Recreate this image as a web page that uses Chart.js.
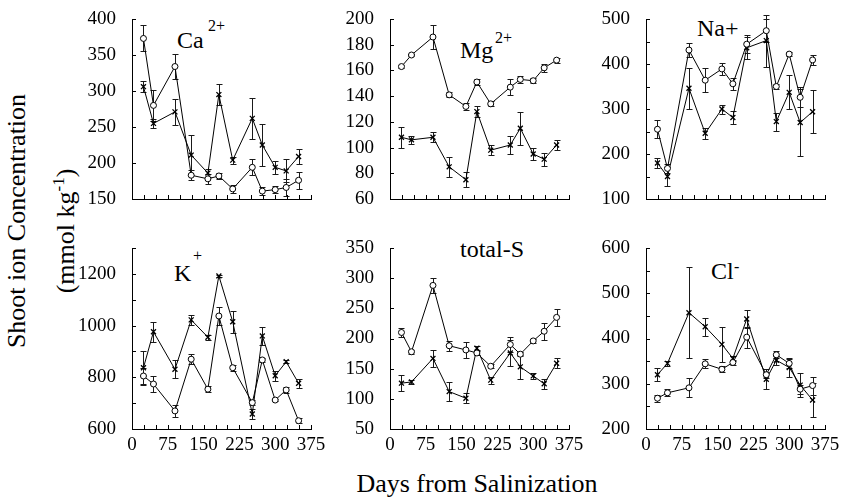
<!DOCTYPE html>
<html>
<head>
<meta charset="utf-8">
<script src="https://cdn.jsdelivr.net/npm/chart.js@4.4.1/dist/chart.umd.min.js"></script>
<style>
  html, body { margin:0; padding:0; background:#fff; }
  #wrap { position:relative; width:846px; height:501px; background:#fff; overflow:hidden;
          font-family:'Liberation Serif','Times New Roman',serif; color:#000; }
  canvas { position:absolute; }
  .t { position:absolute; line-height:1; white-space:nowrap; }
  .rot { position:absolute; line-height:1; white-space:nowrap; transform:translate(-50%,-50%) rotate(-90deg); }
  .ctr { position:absolute; line-height:1; white-space:nowrap; transform:translate(-50%,-50%); }
</style>
</head>
<body>
<div id="wrap">
  <div class="t" style="left:177px;top:28px;font-size:24px;">Ca</div>
  <div class="t" style="left:208px;top:18px;font-size:16px;">2+</div>
  <div class="t" style="left:460px;top:37.5px;font-size:24px;">Mg</div>
  <div class="t" style="left:495px;top:30px;font-size:16px;">2+</div>
  <div class="t" style="left:697px;top:15.5px;font-size:24px;">Na+</div>
  <div class="t" style="left:174px;top:260.5px;font-size:24px;">K</div>
  <div class="t" style="left:193px;top:247.5px;font-size:16px;">+</div>
  <div class="t" style="left:460px;top:236.5px;font-size:24px;">total-S</div>
  <div class="t" style="left:711px;top:259px;font-size:24px;">Cl</div>
  <div class="t" style="left:734px;top:258.5px;font-size:16px;">-</div>
  <div class="rot" style="left:17px;top:221px;font-size:26px;">Shoot ion Concentration</div>
  <div class="rot" style="left:66px;top:231px;font-size:26px;">(mmol kg<span style="font-size:17px;position:relative;top:-10px;">-1</span>)</div>
  <div class="ctr" style="left:477px;top:484px;font-size:26px;">Days from Salinization</div>
</div>
<script>
// ---- data ----
const days = [24, 45, 90, 124, 159, 182, 211, 252, 273, 300, 323, 349];
const xTickDays = [0, 25, 50, 75, 100, 125, 150, 175, 200, 225, 250, 275, 300, 325, 350, 375];
const xLabelDays = [0, 75, 150, 225, 300, 375];

const caCircle    = [373, 280, 334, 183, 178, 182, 164, 194, 161, 163, 166, 176];
const caCircleErr = [18, 22, 18, 7, 7, 4, 6, 11, 5, 5, 12, 12];
const caCross     = [306, 255, 271, 211, 186, 295, 204, 262, 225, 194, 189, 209];
const caCrossErr  = [8, 6, 18, 28, 5, 15, 5, 28, 29, 9, 16, 11];
const caTicks  = [150, 200, 250, 300, 350, 400];
const caLabels = [150, 200, 250, 300, 350, 400];

const mgCircle    = [163, 172, 186, 141, 132, 151, 134, 147, 153, 152, 162, 168];
const mgCircleErr = [1, 1, 9, 2, 3, 2, 2, 6, 3, 2, 3, 2];
const mgCross     = [108, 106, 108, 85, 75, 128, 98, 102, 115, 95, 91, 102];
const mgCrossErr  = [8, 3, 4, 8, 6, 4, 4, 7, 13, 5, 5, 4];
const mgTicks  = [60, 80, 100, 120, 140, 160, 180, 200];
const mgLabels = [60, 80, 100, 120, 140, 160, 180, 200];

const naCircle    = [255, 168, 431, 364, 389, 356, 444, 474, 350, 422, 326, 409];
const naCircleErr = [20, 10, 16, 27, 14, 13, 20, 25, 5, 4, 22, 12];
const naCross     = [180, 150, 346, 246, 300, 281, 436, 452, 272, 337, 270, 294];
const naCrossErr  = [12, 22, 45, 12, 10, 14, 25, 58, 20, 38, 75, 48];
const naTicks  = [100, 150, 200, 250, 300, 350, 400, 450, 500];
const naLabels = [100, 200, 300, 400, 500];

const kCircle    = [805, 774, 670, 870, 754, 1037, 837, 702, 867, 712, 751, 632];
const kCircleErr = [30, 32, 22, 20, 12, 33, 12, 10, 8, 5, 10, 10];
const kCross     = [837, 976, 831, 1022, 955, 1192, 1015, 658, 960, 806, 860, 777];
const kCrossErr  = [66, 38, 34, 18, 10, 5, 42, 20, 36, 20, 5, 18];
const kTicks  = [600, 700, 800, 900, 1000, 1100, 1200, 1300];
const kLabels = [600, 800, 1000, 1200];

const sCircle    = [210, 178, 288, 188, 181, 176, 154, 190, 174, 196, 212, 235];
const sCircleErr = [8, 3, 13, 8, 14, 3, 3, 13, 3, 3, 14, 14];
const sCross     = [126, 128, 167, 112, 101, 184, 131, 176, 153, 138, 125, 159];
const sCrossErr  = [13, 3, 14, 16, 8, 3, 6, 22, 20, 5, 8, 8];
const sTicks  = [50, 100, 150, 200, 250, 300, 350];
const sLabels = [50, 100, 150, 200, 250, 300, 350];

const clCircle    = [268, 280, 291, 344, 332, 347, 403, 320, 364, 345, 288, 296];
const clCircleErr = [8, 8, 21, 10, 7, 5, 23, 7, 8, 10, 10, 20];
const clCross     = [320, 345, 457, 426, 387, 356, 443, 310, 352, 336, 297, 264];
const clCrossErr  = [15, 5, 100, 20, 38, 5, 20, 22, 10, 20, 26, 37];
const clTicks  = [200, 250, 300, 350, 400, 450, 500, 550, 600];
const clLabels = [200, 300, 400, 500, 600];

// ---- drawing ----
const FONT = "Liberation Serif, serif";
Chart.defaults.font.family = FONT;
Chart.defaults.color = '#000';
const YW = 70, PADT = 32, PADR = 24, XH = 32;
const colLeft = [132, 390, 646];
const rowTop = [19, 248];
const rowH = [180, 181];
const plotW = 179;

const inwardTicks = {
  id: 'inwardTicks',
  afterDraw(chart) {
    const ctx = chart.ctx, a = chart.chartArea;
    const xs = chart.scales.x, ys = chart.scales.y;
    ctx.save();
    ctx.strokeStyle = '#000';
    ctx.lineWidth = 1;
    ctx.beginPath();
    xs.ticks.forEach(t => {
      const px = Math.round(xs.getPixelForValue(t.value)) + 0.5;
      ctx.moveTo(px, a.bottom);
      ctx.lineTo(px, a.bottom - 4);
    });
    ys.ticks.forEach(t => {
      const py = Math.round(ys.getPixelForValue(t.value)) + 0.5;
      ctx.moveTo(a.left, py);
      ctx.lineTo(a.left + 4, py);
    });
    ctx.stroke();
    ctx.restore();
  }
};

const errorBars = {
  id: 'errorBars',
  beforeDatasetsDraw(chart) {
    const ctx = chart.ctx;
    const xs = chart.scales.x, ys = chart.scales.y;
    ctx.save();
    ctx.strokeStyle = '#1a1a1a';
    ctx.lineWidth = 1;
    ctx.beginPath();
    chart.data.datasets.forEach(ds => {
      ds.data.forEach((p, i) => {
        const e = ds.errors[i];
        const px = Math.round(xs.getPixelForValue(p.x)) + 0.5;
        const yt = Math.round(ys.getPixelForValue(p.y + e)) + 0.5;
        const yb = Math.round(ys.getPixelForValue(p.y - e)) + 0.5;
        ctx.moveTo(px, yt); ctx.lineTo(px, yb);
        ctx.moveTo(px - 3, yt); ctx.lineTo(px + 3, yt);
        ctx.moveTo(px - 3, yb); ctx.lineTo(px + 3, yb);
      });
    });
    ctx.stroke();
    ctx.restore();
  }
};

function makePanel(col, row, circle, circleErr, cross, crossErr, ticks, labels, showX) {
  const h = rowH[row];
  const W = YW + plotW + PADR, H = PADT + h + XH;
  const cv = document.createElement('canvas');
  cv.width = W; cv.height = H;
  cv.style.left = (colLeft[col] - YW) + 'px';
  cv.style.top = (rowTop[row] - PADT) + 'px';
  cv.style.width = W + 'px'; cv.style.height = H + 'px';
  document.getElementById('wrap').appendChild(cv);
  new Chart(cv.getContext('2d'), {
    type: 'line',
    data: {
      datasets: [
        {
          data: days.map((d, i) => ({ x: d, y: circle[i] })),
          errors: circleErr,
          borderColor: '#000', borderWidth: 1, tension: 0,
          pointStyle: 'circle', pointRadius: 3, pointBackgroundColor: '#fff',
          pointBorderColor: '#000', pointBorderWidth: 1
        },
        {
          data: days.map((d, i) => ({ x: d, y: cross[i] })),
          errors: crossErr,
          borderColor: '#000', borderWidth: 1, tension: 0,
          pointStyle: 'crossRot', pointRadius: 3.5,
          pointBorderColor: '#000', pointBorderWidth: 1.3
        }
      ]
    },
    options: {
      responsive: false, animation: false, devicePixelRatio: 1,
      layout: { padding: { left: 0, top: PADT, right: PADR, bottom: 0 } },
      plugins: { legend: { display: false }, tooltip: { enabled: false } },
      scales: {
        x: {
          type: 'linear', min: 0, max: 375,
          grid: { display: false, drawTicks: false },
          border: { display: true, color: '#000', width: 1 },
          afterBuildTicks: s => { s.ticks = xTickDays.map(v => ({ value: v })); },
          afterFit: s => { s.height = XH; },
          ticks: {
            autoSkip: false, maxRotation: 0, minRotation: 0, padding: 5, color: '#000',
            font: { family: FONT, size: 19 },
            callback: v => (showX && xLabelDays.includes(v)) ? String(v) : ''
          }
        },
        y: {
          type: 'linear', min: ticks[0], max: ticks[ticks.length - 1],
          grid: { display: false, drawTicks: false },
          border: { display: true, color: '#000', width: 1 },
          afterBuildTicks: s => { s.ticks = ticks.map(v => ({ value: v })); },
          afterFit: s => { s.width = YW; },
          ticks: {
            autoSkip: false, padding: 16, color: '#000',
            font: { family: FONT, size: 19 },
            callback: v => labels.includes(v) ? String(v) : ''
          }
        }
      }
    },
    plugins: [errorBars, inwardTicks]
  });
}

function buildAll() {
  makePanel(0, 0, caCircle, caCircleErr, caCross, caCrossErr, caTicks, caLabels, false);
  makePanel(1, 0, mgCircle, mgCircleErr, mgCross, mgCrossErr, mgTicks, mgLabels, false);
  makePanel(2, 0, naCircle, naCircleErr, naCross, naCrossErr, naTicks, naLabels, false);
  makePanel(0, 1, kCircle, kCircleErr, kCross, kCrossErr, kTicks, kLabels, true);
  makePanel(1, 1, sCircle, sCircleErr, sCross, sCrossErr, sTicks, sLabels, true);
  makePanel(2, 1, clCircle, clCircleErr, clCross, clCrossErr, clTicks, clLabels, true);
}
if (document.fonts && document.fonts.load) {
  document.fonts.load('19px "Liberation Serif"').then(buildAll, buildAll);
} else {
  buildAll();
}
</script>
</body>
</html>
